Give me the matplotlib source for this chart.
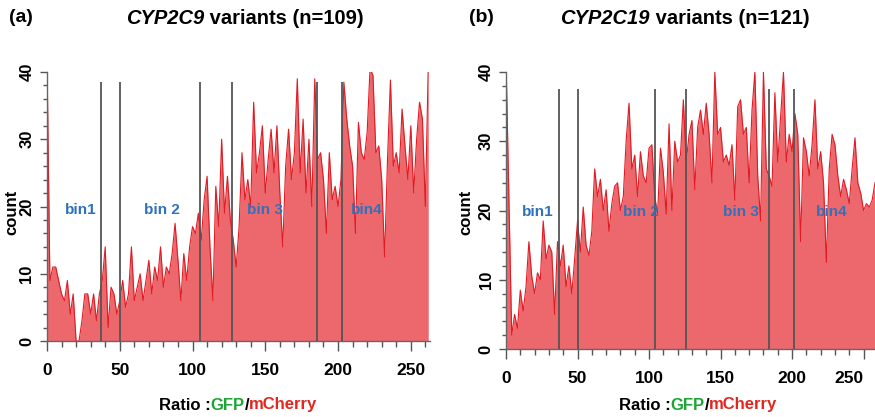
import numpy as np
import matplotlib
matplotlib.use('Agg')
import matplotlib.pyplot as plt
from matplotlib import font_manager
from matplotlib.offsetbox import TextArea, HPacker, AnnotationBbox
from matplotlib.ticker import MultipleLocator

names = {f.name for f in font_manager.fontManager.ttflist}
SANS = 'Liberation Sans' if 'Liberation Sans' in names else 'DejaVu Sans'
NARROW = 'Liberation Sans Narrow' if 'Liberation Sans Narrow' in names else SANS
plt.rcParams['font.family'] = SANS

FILL = '#EC686C'; EDGE = '#E11B24'; GATE = '#555555'; BLUE = '#2E72BE'
GREEN = '#1FA535'; RED = '#E3261E'

# ---- data (counts per 2-unit ratio step) ----
cyp2c9_counts = [42, 9, 11, 11, 9, 7, 6, 9, 4, 7, 0, 0, 3, 7, 7, 4, 7, 3, 7, 9,
                 14, 2, 8, 7, 4, 6, 9, 5, 7, 14, 6, 8, 10, 6, 9, 12, 7, 11, 9, 14,
                 8, 11, 10, 13, 17.5, 12, 6, 13, 9, 14, 17, 16, 19, 15, 21, 24.5, 14, 6, 23, 17,
                 30, 19, 24.5, 18, 15, 11, 17, 28, 21, 24, 20, 35.5, 25, 28, 32, 22, 27, 31.5, 25, 32,
                 22, 14, 26, 31.5, 24, 28, 39, 25, 33, 22, 30, 20, 39, 27, 28, 24, 16, 28, 21, 23,
                 20, 24, 38.5, 33, 29, 26, 16, 32.5, 28, 27, 31, 40.5, 39.5, 28, 29, 24, 12.5, 27, 38.8, 26,
                 28, 25, 34.5, 29, 24, 32, 22, 30, 35.5, 33, 20, 41]
cyp2c19_counts = [42, 22, 2, 5, 3, 8.5, 5.5, 9, 15.5, 10.5, 8, 11, 10, 18.5, 13, 15, 14, 5, 15.5, 12,
                  15, 9, 12, 8, 13, 18.5, 14, 20.5, 15, 13.5, 17, 26, 22, 24.5, 20, 23, 17, 21, 23.5, 24,
                  20, 22, 30, 35.5, 26, 28, 22, 28.5, 25, 24, 29, 29.5, 22, 19.5, 29, 25.5, 19.5, 32.5, 20, 30,
                  27, 28, 36, 27, 31, 33, 23, 32, 34.5, 31, 35.5, 31, 24, 40, 31, 32, 27, 28, 26.5, 29.5,
                  21.5, 35, 36, 31, 32, 24, 34.5, 40, 25, 18.5, 40, 26, 25, 23.5, 37, 27, 33.5, 40, 27, 31,
                  28.5, 34, 31, 15.5, 30.5, 28.5, 25, 29.5, 36, 26, 28.5, 24, 12.5, 26, 31, 29.5, 25, 22, 24.5, 23,
                  21, 26, 30.5, 24, 22.5, 20, 21, 20.5, 21.5, 24]
step = 2
cyp2c9_gates = [37, 50, 105, 127, 185.5, 203]
cyp2c19_gates = [37, 50, 104, 126, 184, 201.4]
bin_names = ['bin1', 'bin 2', 'bin 3', 'bin4']
cyp2c9_label_x = [23, 79, 150, 220]
cyp2c19_label_x = [22, 94, 164, 228]

panels = [
    dict(tag='(a)', gene='CYP2C9', rest=' variants (n=109)', counts=cyp2c9_counts,
         gates=cyp2c9_gates, gtop=38.5, labx=cyp2c9_label_x, laby=19.5,
         rect=[47/875, 1-341/417, 383/875, 269/417], xmax=263.2,
         tag_x=9/875, title_x=245/875, xlab_x=238/875, ylab_x=12/875),
    dict(tag='(b)', gene='CYP2C19', rest=' variants (n=121)', counts=cyp2c19_counts,
         gates=cyp2c19_gates, gtop=37.5, labx=cyp2c19_label_x, laby=19.8,
         rect=[506/875, 1-349/417, 369/875, 277/417], xmax=258,
         tag_x=469/875, title_x=685/875, xlab_x=698/875, ylab_x=466/875),
]

fig = plt.figure(figsize=(8.75, 4.17), dpi=100)


def packed(fig, xy, parts, size, family):
    kids = [TextArea(t, textprops=dict(color=c, fontsize=size, fontweight='bold',
                                       fontstyle=st, family=family)) for t, c, st in parts]
    box = HPacker(children=kids, align='baseline', pad=0, sep=0)
    ab = AnnotationBbox(box, xy, xycoords='figure fraction', frameon=False,
                        box_alignment=(0.5, 0.5), pad=0)
    fig.add_artist(ab)


for p in panels:
    ax = fig.add_axes(p['rect'])
    vals = np.array(p['counts'], dtype=float)
    xs = np.arange(len(vals)) * step
    ax.fill_between(xs, vals, 0, color=FILL, lw=0)
    ax.plot(xs, vals, color=EDGE, lw=0.8)
    ax.vlines(p['gates'], 0, p['gtop'], colors=GATE, lw=1.3, zorder=3)
    for name, lx in zip(bin_names, p['labx']):
        ax.text(lx, p['laby'], name, color=BLUE, fontsize=11, fontweight='bold',
                ha='center', va='center', zorder=4)
    ax.set_xlim(0, p['xmax'])
    ax.set_ylim(0, 40)
    ax.spines[['top', 'right']].set_visible(False)
    for s in ['left', 'bottom']:
        ax.spines[s].set_color('#666666')
        ax.spines[s].set_linewidth(1.0)
    ax.xaxis.set_major_locator(MultipleLocator(50))
    ax.xaxis.set_minor_locator(MultipleLocator(10))
    ax.yaxis.set_major_locator(MultipleLocator(10))
    ax.yaxis.set_minor_locator(MultipleLocator(2))
    ax.tick_params(axis='x', which='major', length=7, width=1, color='#555555', pad=9,
                   labelsize=12.5)
    ax.tick_params(axis='x', which='minor', length=4, width=1, color='#555555')
    ax.tick_params(axis='y', which='major', length=5, width=1, color='#555555', pad=4,
                   labelsize=12, labelrotation=90)
    ax.tick_params(axis='y', which='minor', length=3, width=1, color='#555555')
    for lab in ax.get_xticklabels():
        lab.set_family(NARROW); lab.set_fontweight('bold')
        if lab.get_text() == '250' and p['tag'] == '(b)':
            lab.set_ha('right')
    for lab in ax.get_yticklabels():
        lab.set_fontweight('bold'); lab.set_va('center')

    fig.text(p['ylab_x'], 0.49, 'count', rotation=90, fontsize=12, fontweight='bold',
             ha='center', va='center')
    fig.text(p['tag_x'], 1 - 18/417, p['tag'], fontsize=14, fontweight='bold',
             ha='left', va='center')
    packed(fig, (p['title_x'], 1 - 18/417),
           [(p['gene'], 'black', 'italic'), (p['rest'], 'black', 'normal')], 14.5, SANS)
    packed(fig, (p['xlab_x'], 1 - 405/417),
           [('Ratio :', 'black', 'normal'), ('GFP', GREEN, 'normal'),
            ('/', 'black', 'normal'), ('mCherry', RED, 'normal')], 12, NARROW)

fig.savefig('out.png', dpi=100)
